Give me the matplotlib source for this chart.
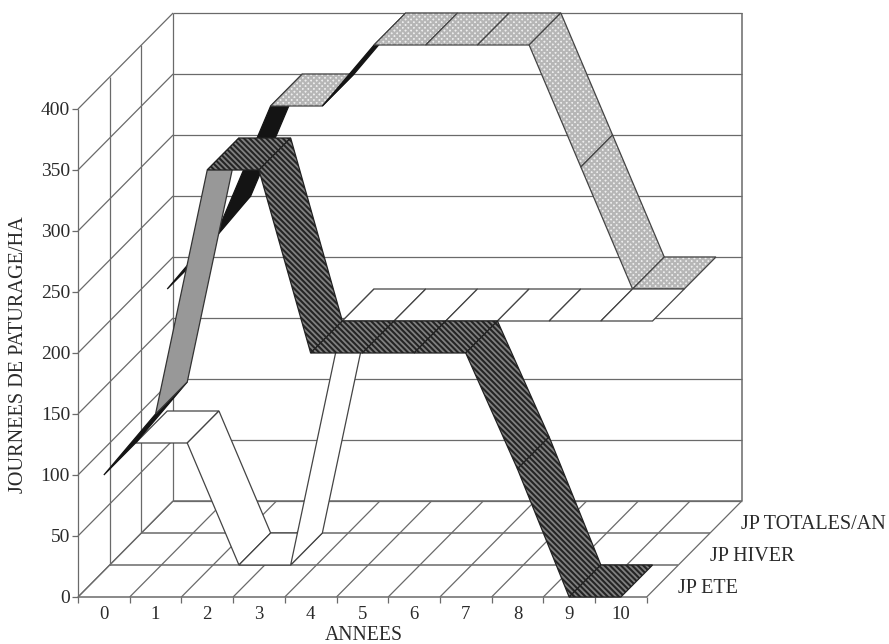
import matplotlib
matplotlib.use("Agg")
import matplotlib.pyplot as plt
from matplotlib.patches import Polygon

plt.rcParams['font.family'] = ['Liberation Serif', 'DejaVu Sans']
plt.rcParams['hatch.linewidth'] = 1.5

# valeurs
annees = list(range(11))
jp_ete = [100, 150, 350, 350, 200, 200, 200, 200, 105, 0, 0]
jp_hiver = [100, 100, 0, 0, 200, 200, 200, 200, 200, 200, 200]
jp_totales = [200, 250, 350, 350, 400, 400, 400, 400, 300, 200, 200]
noms_series = ["JP ETE", "JP HIVER", "JP TOTALES/AN"]
graduations_y = [0, 50, 100, 150, 200, 250, 300, 350, 400]

# echelle : largeur d'une annee et hauteur d'une unite, en pixels
PX_AN = 51.7
PX_VAL = 1.22
# decalage oblique d'une rangee de profondeur, en unites de donnees
DX = 31.7 / PX_AN
DY = 32.0 / PX_VAL
LIGNE = '#444444'
TEXTE = '#2a2a2a'


def proj(x, val, prof=0):
    """position oblique : annee, valeur, rangee de profondeur"""
    return x + prof * DX, val + prof * DY


def ligne(ax, p1, p2, lw=0.9, z=1, c='#6a6a6a'):
    ax.plot([p1[0], p2[0]], [p1[1], p2[1]], color=c, lw=lw, zorder=z,
            solid_capstyle='butt')


def facette(ax, coins, z, fc, hatch=None, hc=None, bord=LIGNE):
    if hatch:
        ax.add_patch(Polygon(coins, closed=True, fc=fc, ec=hc, lw=0, hatch=hatch, zorder=z))
    else:
        ax.add_patch(Polygon(coins, closed=True, fc=fc, ec='none', zorder=z))
    ax.add_patch(Polygon(coins, closed=True, fill=False, ec=bord, lw=0.9, zorder=z + 0.1))


def ruban(ax, valeurs, prof, z, style, style_montee):
    n = len(valeurs)
    for i in range(n - 1):
        v1, v2 = valeurs[i], valeurs[i + 1]
        xa, xb = i + 0.5, i + 1.5
        coins = [proj(xa, v1, prof), proj(xb, v2, prof),
                 proj(xb, v2, prof + 1), proj(xa, v1, prof + 1)]
        st = style
        if v2 > v1:
            st = style_montee(v2 - v1)
        facette(ax, coins, z + i * 0.2, **st)


fig = plt.figure(figsize=(8.89, 6.44), dpi=100)
ax = fig.add_axes([0, 0, 1, 1])
ax.set_xlim(-78 / PX_AN, (889 - 78) / PX_AN)
ax.set_ylim(-47 / PX_VAL, 597 / PX_VAL)
ax.axis('off')

nb = len(annees)
vmax = graduations_y[-1]

# parois : fond et cote gauche
for v in graduations_y:
    ligne(ax, proj(0, v, 0), proj(0, v, 3))
    ligne(ax, proj(0, v, 3), proj(nb, v, 3))
for p in [0, 1, 2, 3]:
    ligne(ax, proj(0, 0, p), proj(0, vmax, p))
    ligne(ax, proj(0, 0, p), proj(nb, 0, p), lw=1.1)
ligne(ax, proj(nb, 0, 3), proj(nb, vmax, 3), lw=1.1)

# sol
for k in range(nb + 1):
    ligne(ax, proj(k, 0, 0), proj(k, 0, 3))
    ligne(ax, proj(k, 0, 0), proj(k, -5, 0))
for v in graduations_y:
    ligne(ax, (0, v), (-6 / PX_AN, v))

# rubans, du fond vers l'avant
pointille = dict(fc='#eeeeee', hatch='xxxxxx', hc='#b6b6b6')
blanc = dict(fc='white')
raye = dict(fc='#808080', hatch='\\\\\\\\\\\\', hc='#242424', bord='#222222')
noir = dict(fc='#141414', bord='#141414')
gris = dict(fc='#989898', bord='#333333')

ruban(ax, jp_totales, 2, 10, pointille, lambda d: noir)
ruban(ax, jp_hiver, 1, 20, blanc, lambda d: blanc)
ruban(ax, jp_ete, 0, 30, raye, lambda d: gris if d > 100 else noir)

# textes
for v in graduations_y:
    ax.text(-8 / PX_AN, v - 1.5, str(v), ha='right', va='center', fontsize=14, color=TEXTE)
for a in annees:
    ax.text(a + 0.5, -14, str(a), ha='center', va='center', fontsize=13.5, color=TEXTE)
ax.text(5.52, -31.5, "ANNEES", ha='center', va='center', fontsize=14.2, color=TEXTE)
ax.text(-59 / PX_AN, 199, "JOURNEES DE PATURAGE/HA", rotation=90, ha='center', va='center',
        fontsize=14.6, color=TEXTE)
for p, nom in enumerate(noms_series):
    x, y = proj(nb, 0, p + 1)
    ax.text(x - 0.01, y - 19, nom, ha='left', va='center', fontsize=14.5, color=TEXTE)

fig.savefig("out.png", dpi=100)
